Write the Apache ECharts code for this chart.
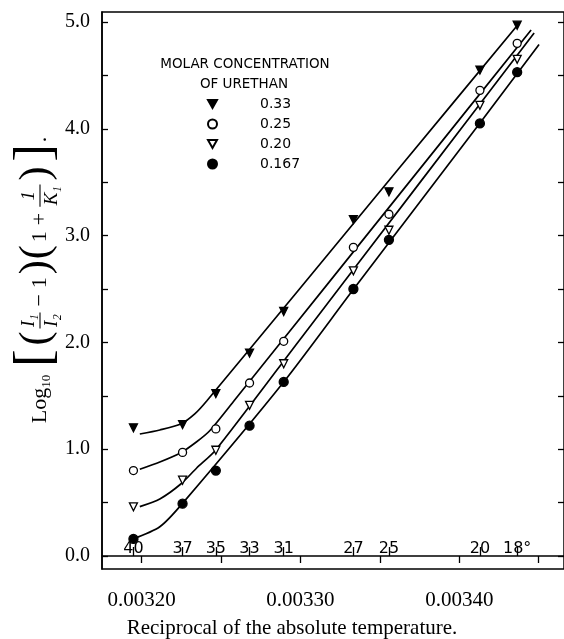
<!DOCTYPE html>
<html><head><meta charset="utf-8">
<script src="https://cdn.jsdelivr.net/npm/echarts@6/dist/echarts.min.js"></script>
<style>html,body{margin:0;padding:0;background:#fff}#c{width:564px;height:639px}</style>
</head><body><div id="c"></div>
<script>
// Temperatures (°C) of the measurements, shown above the axis
const temps = [40, 37, 35, 33, 31, 27, 25, 20, 18];
const tempLabels = ['40', '37', '35', '33', '31', '27', '25', '20', '18°'];
const seriesNames = ['0.33', '0.25', '0.20', '0.167'];
// Log10[(I1/I2 - 1)(1 + 1/K1)] for each urethan concentration
const y033 = [1.20, 1.23, 1.52, 1.90, 2.29, 3.15, 3.41, 4.55, 4.97];
const y025 = [0.80, 0.97, 1.19, 1.62, 2.01, 2.89, 3.20, 4.36, 4.80];
const y020 = [0.46, 0.71, 0.99, 1.41, 1.80, 2.67, 3.05, 4.22, 4.65];
const y0167 = [0.16, 0.49, 0.80, 1.22, 1.63, 2.50, 2.96, 4.05, 4.53];
// Hand-drawn fitted curves
const fitX033 = [0.0031989, 0.0032115, 0.0032247, 0.0032335, 0.0032410, 0.0032994, 0.0033622, 0.0034357];
const fitY033 = [1.142, 1.180, 1.236, 1.330, 1.451, 2.500, 3.633, 4.953];
const fitX025 = [0.0031989, 0.0032115, 0.0032247, 0.0032347, 0.0032429, 0.0032586, 0.0033183, 0.0033811, 0.0034452];
const fitY025 = [0.812, 0.880, 0.967, 1.070, 1.173, 1.461, 2.569, 3.735, 4.925];
const fitX020 = [0.0031989, 0.0032115, 0.0032247, 0.0032347, 0.0032467, 0.0032994, 0.0033748, 0.0034471];
const fitY020 = [0.462, 0.534, 0.674, 0.824, 0.993, 2.021, 3.489, 4.897];
const fitX0167 = [0.0031939, 0.0032115, 0.0032258, 0.0032896, 0.0033334, 0.0034129, 0.0034502];
const fitY0167 = [0.156, 0.274, 0.493, 1.632, 2.497, 4.051, 4.790];
// Axis ticks
const xTicks = [0.00320, 0.00325, 0.00330, 0.00335, 0.00340, 0.00345];
const xLabels = [0.00320, 0.00330, 0.00340];
const yTicks = [0, 0.5, 1, 1.5, 2, 2.5, 3, 3.5, 4, 4.5, 5];
const yLabels = [0, 1, 2, 3, 4, 5];

const recip = temps.map(t => 1 / (t + 273));
const zip = (xs, ys) => xs.map((x, i) => [x, ys[i]]);

const XMIN = 0.0031751, XMAX = 0.0034659, YMIN = -0.1217, YMAX = 5.0936;
const SERIF = '"Liberation Serif", "DejaVu Serif", serif';
const SANS = '"DejaVu Sans", sans-serif';
const DOWN_TRI = 'path://M0,0L10,0L5,9Z';

const values = [y033, y025, y020, y0167];
const fits = [[fitX033, fitY033], [fitX025, fitY025], [fitX020, fitY020], [fitX0167, fitY0167]];
const markerStyles = [
  { symbol: DOWN_TRI, size: [8, 8], fill: '#000' },
  { symbol: 'circle', size: 8, fill: '#fff' },
  { symbol: DOWN_TRI, size: [8, 8], fill: '#fff' },
  { symbol: 'circle', size: 9, fill: '#000' }
];

const series = [];
fits.forEach((f, i) => {
  series.push({
    type: 'line', name: 'fit' + i, data: zip(f[0], f[1]),
    showSymbol: false, symbol: 'none', smooth: 0.25,
    lineStyle: { color: '#000', width: 1.7 }, silent: true, z: 2
  });
});
values.forEach((v, i) => {
  const m = markerStyles[i];
  series.push({
    type: 'scatter', name: seriesNames[i], data: zip(recip, v),
    symbol: m.symbol, symbolSize: m.size,
    itemStyle: { color: m.fill, borderColor: '#000', borderWidth: 1.3, opacity: 1 },
    z: 5
  });
});

// y-axis title laid out along a rotated baseline
function buildYTitle() {
  const ctx = document.createElement('canvas').getContext('2d');
  const F = (s, it) => (it ? 'italic ' : '') + s + 'px ' + SERIF;
  const toks = [
    { t: 'Log', f: F(22), dy: 0, g: 0 },
    { t: '10', f: F(13), dy: 7, g: 8 },
    { t: '[', f: F(52), dy: -4, g: 4 },
    { t: '(', f: F(42), dy: -3, g: 3 },
    { frac: ['I₁', 'I₂'], f: F(19, true), g: 6 },
    { t: '−', f: F(22), dy: 0, g: 6 },
    { t: '1', f: F(22), dy: 0, g: 3 },
    { t: ')', f: F(42), dy: -3, g: 1 },
    { t: '(', f: F(42), dy: -3, g: 3 },
    { t: '1', f: F(22), dy: 0, g: 6 },
    { t: '+', f: F(22), dy: 0, g: 6 },
    { frac: ['1', 'K₁'], f: F(19, true), g: 4 },
    { t: ')', f: F(42), dy: -3, g: 5 },
    { t: ']', f: F(52), dy: -4, g: 2 },
    { t: '.', f: F(22), dy: 0, g: 0 }
  ];
  toks.forEach(k => {
    ctx.font = k.f;
    if (k.frac) {
      k.w = Math.max(ctx.measureText(k.frac[0]).width, ctx.measureText(k.frac[1]).width) + 3;
    } else {
      k.w = ctx.measureText(k.t).width;
    }
  });
  const total = toks.reduce((s, k) => s + k.w + k.g, 0);
  let x = -total / 2;
  const children = [];
  toks.forEach(k => {
    const cx = x + k.w / 2;
    if (k.frac) {
      children.push({ type: 'text', x: cx, y: -11, style: { text: k.frac[0], font: k.f, fill: '#000', textAlign: 'center', textVerticalAlign: 'middle' } });
      children.push({ type: 'text', x: cx, y: 12, style: { text: k.frac[1], font: k.f, fill: '#000', textAlign: 'center', textVerticalAlign: 'middle' } });
      children.push({ type: 'line', shape: { x1: x, y1: 0, x2: x + k.w, y2: 0 }, style: { stroke: '#000', lineWidth: 1.1 } });
    } else {
      children.push({ type: 'text', x: cx, y: k.dy, style: { text: k.t, font: k.f, fill: '#000', textAlign: 'center', textVerticalAlign: 'middle' } });
    }
    x += k.w + k.g;
  });
  return { type: 'group', x: 40, y: 280, rotation: Math.PI / 2, children: children };
}

const chart = echarts.init(document.getElementById('c'), null, { renderer: 'canvas' });
chart.setOption({
  animation: false,
  backgroundColor: '#fff',
  grid: { left: 102, top: 12, right: -1, bottom: 70, show: true, borderColor: '#000', borderWidth: 1.5 },
  xAxis: [
    {
      type: 'value', min: XMIN, max: XMAX, position: 'bottom',
      axisLine: { lineStyle: { color: '#000', width: 1.5 } },
      axisTick: { customValues: xTicks, length: 7, inside: false, lineStyle: { color: '#000', width: 1.3 } },
      axisLabel: { customValues: xLabels, formatter: v => v.toFixed(5), fontFamily: SERIF, fontSize: 21, color: '#000', margin: 21 },
      splitLine: { show: false }
    },
    {
      type: 'value', min: XMIN, max: XMAX, position: 'bottom',
      axisLine: { show: false },
      axisTick: { customValues: recip, length: 9, inside: true, lineStyle: { color: '#000', width: 1.3 } },
      axisLabel: {
        customValues: recip, inside: true, margin: 12, fontFamily: SANS, fontSize: 16, color: '#000',
        formatter: v => {
          let best = 0;
          recip.forEach((r, i) => { if (Math.abs(r - v) < Math.abs(recip[best] - v)) best = i; });
          return tempLabels[best];
        }
      },
      splitLine: { show: false }
    }
  ],
  yAxis: [
    {
      type: 'value', min: YMIN, max: YMAX, position: 'left',
      axisLine: { show: true, lineStyle: { color: '#000', width: 1.5 } },
      axisTick: { customValues: yTicks, length: 6, inside: true, lineStyle: { color: '#000', width: 1.3 } },
      axisLabel: { customValues: yLabels, formatter: v => v.toFixed(1), fontFamily: SERIF, fontSize: 20, color: '#000', margin: 12 },
      splitLine: { show: false }
    },
    {
      type: 'value', min: YMIN, max: YMAX, position: 'right',
      axisLine: { show: false },
      axisTick: { customValues: yTicks, length: 6, inside: true, lineStyle: { color: '#000', width: 1.3 } },
      axisLabel: { show: false },
      splitLine: { show: false }
    }
  ],
  legend: {
    data: seriesNames.map((n, i) => ({ name: n, icon: markerStyles[i].symbol })),
    orient: 'vertical', left: 202, top: 92,
    itemWidth: 9, itemHeight: 9, itemGap: 6,
    textStyle: { fontFamily: SANS, fontSize: 14, color: '#000', padding: [0, 0, 0, 38], lineHeight: 14 },
    selectedMode: false
  },
  graphic: [
    { type: 'text', x: 245, y: 64, style: { text: 'MOLAR CONCENTRATION', font: '13.5px "DejaVu Sans"', fill: '#000', textAlign: 'center', textVerticalAlign: 'middle' } },
    { type: 'text', x: 244, y: 84, style: { text: 'OF URETHAN', font: '13.5px "DejaVu Sans"', fill: '#000', textAlign: 'center', textVerticalAlign: 'middle' } },
    { type: 'text', x: 292, y: 628, style: { text: 'Reciprocal of the absolute temperature.', font: '21px "Liberation Serif"', fill: '#000', textAlign: 'center', textVerticalAlign: 'middle' } },
    buildYTitle()
  ],
  series: series
});
</script></body></html>
